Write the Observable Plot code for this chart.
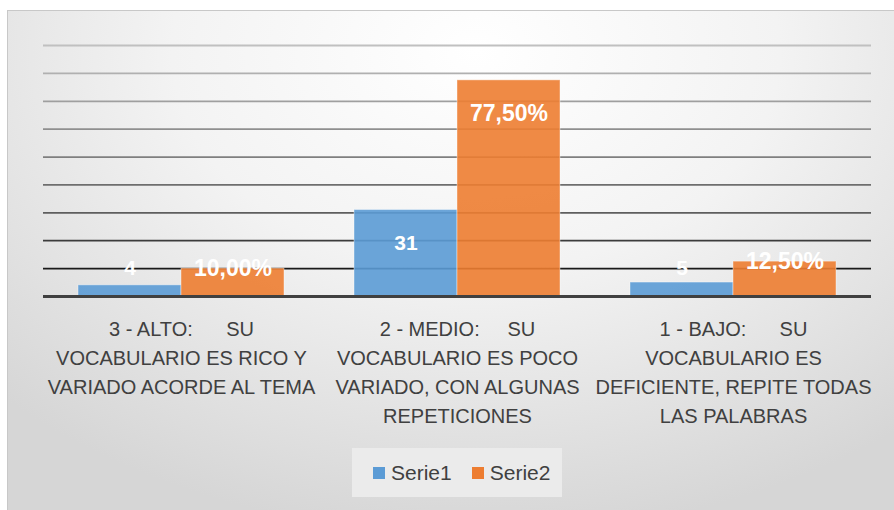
<!DOCTYPE html>
<html>
<head>
<meta charset="utf-8">
<script src="https://cdn.jsdelivr.net/npm/d3@7"></script>
<script src="https://cdn.jsdelivr.net/npm/@observablehq/plot@0.6"></script>
<style>
  html, body { margin: 0; padding: 0; background: #ffffff; overflow: hidden; }
  #frame {
    position: absolute; left: 7px; top: 10px; width: 900px; height: 510px;
    border-top: 1px solid #c8c8c8; border-left: 1px solid #c8c8c8;
    background: radial-gradient(ellipse 75% 95% at 52% 8%, #ffffff 0%, #f3f3f3 45%, #d6d6d6 100%);
    font-family: "Liberation Sans", Arial, sans-serif;
  }
  #legendbox {
    box-sizing: border-box;
    margin-left: 344px; width: 210px; height: 49px; padding-left: 21px;
    background: #ebebeb; display: flex; align-items: center; overflow: visible;
  }
  .lg-swatches, .lg-swatches-wrap { font-size: 21px !important; color: #404040 !important;
    font-family: "Liberation Sans", Arial, sans-serif !important; margin: 0 !important; min-height: 0 !important;
    display: flex !important; flex-wrap: nowrap !important; align-items: center !important; white-space: nowrap; }
  .lg-swatch { margin-right: 20px !important; display: inline-flex !important; align-items: center !important; }
  .lg-swatch > svg { margin-right: 6px !important; }
</style>
</head>
<body>
<div id="frame"></div>
<script>
const categories = [
  "3 - ALTO:\u00a0\u00a0\u00a0\u00a0\u00a0\u00a0SU\nVOCABULARIO ES RICO Y\nVARIADO ACORDE AL TEMA",
  "2 - MEDIO:\u00a0\u00a0\u00a0\u00a0\u00a0SU\nVOCABULARIO ES POCO\nVARIADO, CON ALGUNAS\nREPETICIONES",
  "1 - BAJO:\u00a0\u00a0\u00a0\u00a0\u00a0\u00a0SU\nVOCABULARIO ES\nDEFICIENTE, REPITE TODAS\nLAS PALABRAS"
];
const series = ["Serie1", "Serie2"];
const serie1 = [4, 31, 5];
const serie2 = [10, 77.5, 12.5];   // percent
const gridTicks = [10, 20, 30, 40, 50, 60, 70, 80, 90];
const seriesColors = ["#5B9BD5", "#ED7D31"];

const rows = categories.flatMap((c, i) => [
  {category: c, series: series[0], value: serie1[i]},
  {category: c, series: series[1], value: serie2[i]}
]);
const colorOf = Object.fromEntries(series.map((s, i) => [s, seriesColors[i]]));
const gridColor = d3.scaleLinear().domain([10, 30, 90]).range(["#1a1a1a", "#5e5e5e", "#c0c0c0"]);
const fmt = d => d.series === "Serie1" ? String(d.value) : d.value.toFixed(2).replace(".", ",") + "%";
const font = "'Liberation Sans', Arial, sans-serif";

const chart = Plot.plot({
  width: 886,
  height: 430,
  marginTop: 34,
  marginBottom: 145,
  marginLeft: 35,
  marginRight: 23,
  style: {background: "transparent", fontFamily: font, overflow: "visible"},
  fx: {domain: categories, padding: 0, axis: null},
  x: {domain: series, paddingInner: 0, paddingOuter: 1 / 3, axis: null},
  y: {domain: [0, 90], axis: null},
  marks: [
    Plot.ruleY(gridTicks, {stroke: d => gridColor(d), strokeWidth: 1.8}),
    Plot.barY(rows, {fx: "category", x: "series", y: "value", fill: d => colorOf[d.series],
      fillOpacity: 0.9, stroke: "#ffffff", strokeOpacity: 0.4, strokeWidth: 1}),
    Plot.ruleY([0], {stroke: "#404040", strokeWidth: 3}),
    Plot.text(rows.filter(d => d.value >= 20), {fx: "category", x: "series", y: "value", text: fmt,
      dy: 33, fill: "white", fontWeight: "bold", fontSize: d => d.series === "Serie2" ? 23 : 21}),
    Plot.text(rows.filter(d => d.value < 20), {fx: "category", x: "series", y: d => Math.max(d.value, 10), text: fmt,
      fill: "white", fontWeight: "bold", fontSize: d => d.series === "Serie2" ? 23 : 21}),
    Plot.text(categories, {fx: d => d, text: d => d, frameAnchor: "bottom", lineAnchor: "top", dy: 19,
      fontSize: 20, lineHeight: 1.45, fill: "#404040"})
  ]
});

const legend = Plot.legend({
  color: {domain: series, range: seriesColors},
  legend: "swatches",
  swatchSize: 12,
  className: "lg"
});

const frame = document.getElementById("frame");
frame.appendChild(chart);
const box = document.createElement("div");
box.id = "legendbox";
box.style.marginTop = "7px";
box.appendChild(legend);
frame.appendChild(box);
</script>
</body>
</html>
